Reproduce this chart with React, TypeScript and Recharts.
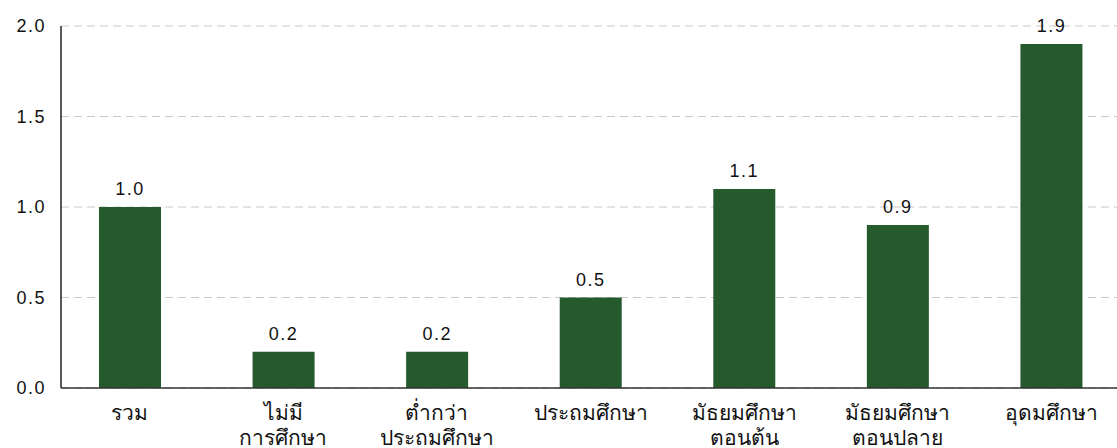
import { BarChart, Bar, XAxis, YAxis, CartesianGrid, LabelList } from 'recharts';

const categories = [
  'รวม',
  'ไม่มี\nการศึกษา',
  'ต่ำกว่า\nประถมศึกษา',
  'ประถมศึกษา',
  'มัธยมศึกษา\nตอนต้น',
  'มัธยมศึกษา\nตอนปลาย',
  'อุดมศึกษา',
];
const values = [1.0, 0.2, 0.2, 0.5, 1.1, 0.9, 1.9];
const yTicks = [0, 0.5, 1.0, 1.5, 2.0];

const data = categories.map((name, i) => ({ name, value: values[i] }));

const FONT = '"Liberation Sans", Arial, sans-serif';

interface TickProps {
  x?: number;
  y?: number;
  payload?: { value: string };
}

function CategoryTick({ x = 0, y = 0, payload }: TickProps) {
  const lines = (payload?.value ?? '').split('\n');
  return (
    <text x={x} y={y} textAnchor="middle" fill="#111" fontSize={21} fontFamily="sans-serif">
      {lines.map((l, i) => (
        <tspan key={i} x={x} dy={i === 0 ? 24 : 25}>
          {l}
        </tspan>
      ))}
    </text>
  );
}

export default function App() {
  return (
    <div style={{ position: 'absolute', left: 0, top: 0, background: '#fff' }}>
      <BarChart
        width={1117}
        height={448}
        data={data}
        margin={{ top: 26, right: 0, bottom: 0, left: 0 }}
      >
        <CartesianGrid vertical={false} stroke="#c8c8c8" strokeDasharray="8 5" />
        <XAxis
          dataKey="name"
          interval={0}
          padding={{ left: -8, right: -11 }}
          axisLine={{ stroke: '#333', strokeWidth: 1.5 }}
          tickLine={false}
          tick={<CategoryTick />}
          height={60}
        />
        <YAxis
          width={61}
          domain={[0, 2]}
          ticks={yTicks}
          tickFormatter={(v: number) => v.toFixed(1)}
          axisLine={{ stroke: '#222', strokeWidth: 1.5 }}
          tickLine={false}
          tickSize={0}
          tickMargin={15}
          tick={{ fill: '#111', fontSize: 18, fontFamily: FONT, letterSpacing: 1.5 }}
        />
        <Bar dataKey="value" fill="#255a2c" barSize={62} isAnimationActive={false}>
          <LabelList
            dataKey="value"
            position="top"
            offset={12}
            formatter={(v: number) => v.toFixed(1)}
            fill="#111"
            fontSize={18}
            fontFamily={FONT}
            letterSpacing={1.5}
          />
        </Bar>
      </BarChart>
    </div>
  );
}
